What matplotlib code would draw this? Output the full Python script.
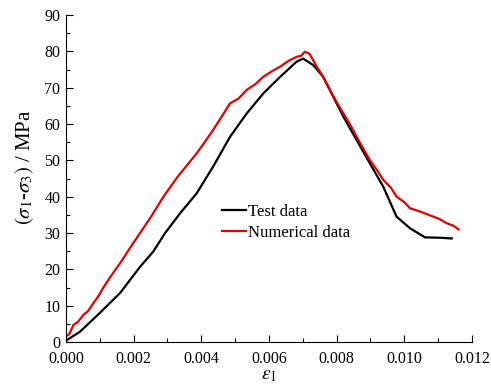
import matplotlib
matplotlib.use("Agg")
import matplotlib.pyplot as plt
from matplotlib.ticker import MultipleLocator

plt.rcParams['font.family'] = ['Liberation Serif', 'DejaVu Serif']
plt.rcParams['mathtext.fontset'] = 'stix'

test_strain = [0.00002, 0.00041, 0.0010, 0.0016, 0.00219, 0.00258, 0.00293, 0.00337,
               0.00386, 0.00435, 0.00485, 0.00534, 0.00583, 0.00633, 0.00682, 0.00701,
               0.00731, 0.00760, 0.00790, 0.00820, 0.00859, 0.00898, 0.00938, 0.00977,
               0.01017, 0.01061, 0.01105, 0.01140]
test_stress = [0.5, 2.8, 8.0, 13.5, 20.7, 24.9, 30.0, 35.4,
               40.9, 48.3, 56.5, 62.9, 68.4, 73.0, 77.2, 78.0,
               76.2, 73.0, 67.5, 62.0, 55.6, 49.2, 42.7, 34.5,
               31.3, 28.8, 28.7, 28.5]

num_strain = [0.0, 0.00010, 0.00022, 0.00035, 0.00051, 0.00065, 0.00081, 0.00095, 0.0011,
              0.0013, 0.0016, 0.0019, 0.00219, 0.00250, 0.00288, 0.00330, 0.00386, 0.00410,
              0.00435, 0.00460, 0.00485, 0.00510, 0.00534, 0.00560, 0.00583, 0.00610,
              0.00633, 0.00660, 0.00682, 0.00695, 0.00706, 0.00720, 0.00741, 0.00760,
              0.00780, 0.00800, 0.00820, 0.00840, 0.00859, 0.00880, 0.00898, 0.00920,
              0.00938, 0.00960, 0.00977, 0.01000, 0.01017, 0.01050, 0.01086, 0.01105,
              0.01125, 0.01145, 0.01160]
num_stress = [1.5, 2.2, 4.7, 5.5, 7.4, 8.5, 10.7, 12.5, 14.9,
              17.8, 21.7, 26.0, 30.0, 34.3, 40.0, 45.5, 51.9, 55.0,
              58.4, 62.0, 65.7, 67.0, 69.4, 71.0, 73.0, 74.6,
              75.8, 77.5, 78.5, 78.8, 79.9, 79.3, 75.8, 73.0,
              69.4, 66.0, 62.9, 59.8, 56.5, 53.0, 50.1, 47.2,
              44.6, 42.5, 40.0, 38.5, 36.8, 35.8, 34.5, 33.8,
              32.7, 32.0, 31.0]

x_ticks = [0.000, 0.002, 0.004, 0.006, 0.008, 0.010, 0.012]
y_ticks = [0, 10, 20, 30, 40, 50, 60, 70, 80, 90]

fig = plt.figure(figsize=(4.91, 3.86), dpi=100)
ax = fig.add_axes([0.1344, 0.114, 0.8269, 0.847])

ax.plot(test_strain, test_stress, color='black', lw=1.6, label='Test data')
ax.plot(num_strain, num_stress, color='#e00000', lw=1.6, label='Numerical data')

ax.set_xlim(0, 0.012)
ax.set_ylim(0, 90)
ax.set_xticks(x_ticks)
ax.set_xticklabels([f"{v:.3f}" for v in x_ticks])
ax.set_yticks(y_ticks)
ax.xaxis.set_minor_locator(MultipleLocator(0.001))
ax.yaxis.set_minor_locator(MultipleLocator(5))
ax.tick_params(which='major', direction='in', length=5, width=0.8, labelsize=11.5, pad=4)
ax.tick_params(axis='x', which='major', pad=6.5)
ax.tick_params(which='minor', direction='in', length=3, width=0.8)
ax.spines['top'].set_visible(False)
ax.spines['right'].set_visible(False)

ax.set_xlabel(r'$\varepsilon_1$', fontsize=14, labelpad=0)
ax.set_ylabel(r'$(\sigma_1$-$\sigma_3)$ / MPa', fontsize=15)
ax.yaxis.set_label_coords(-0.075, 0.535)

ax.legend(loc='upper left', bbox_to_anchor=(222 / 491, 1 - 204 / 386),
          bbox_transform=fig.transFigure, frameon=False, fontsize=12,
          handlelength=1.45, handletextpad=0.1, borderpad=0, borderaxespad=0,
          labelspacing=0.3)

fig.savefig('out.png', dpi=100)
